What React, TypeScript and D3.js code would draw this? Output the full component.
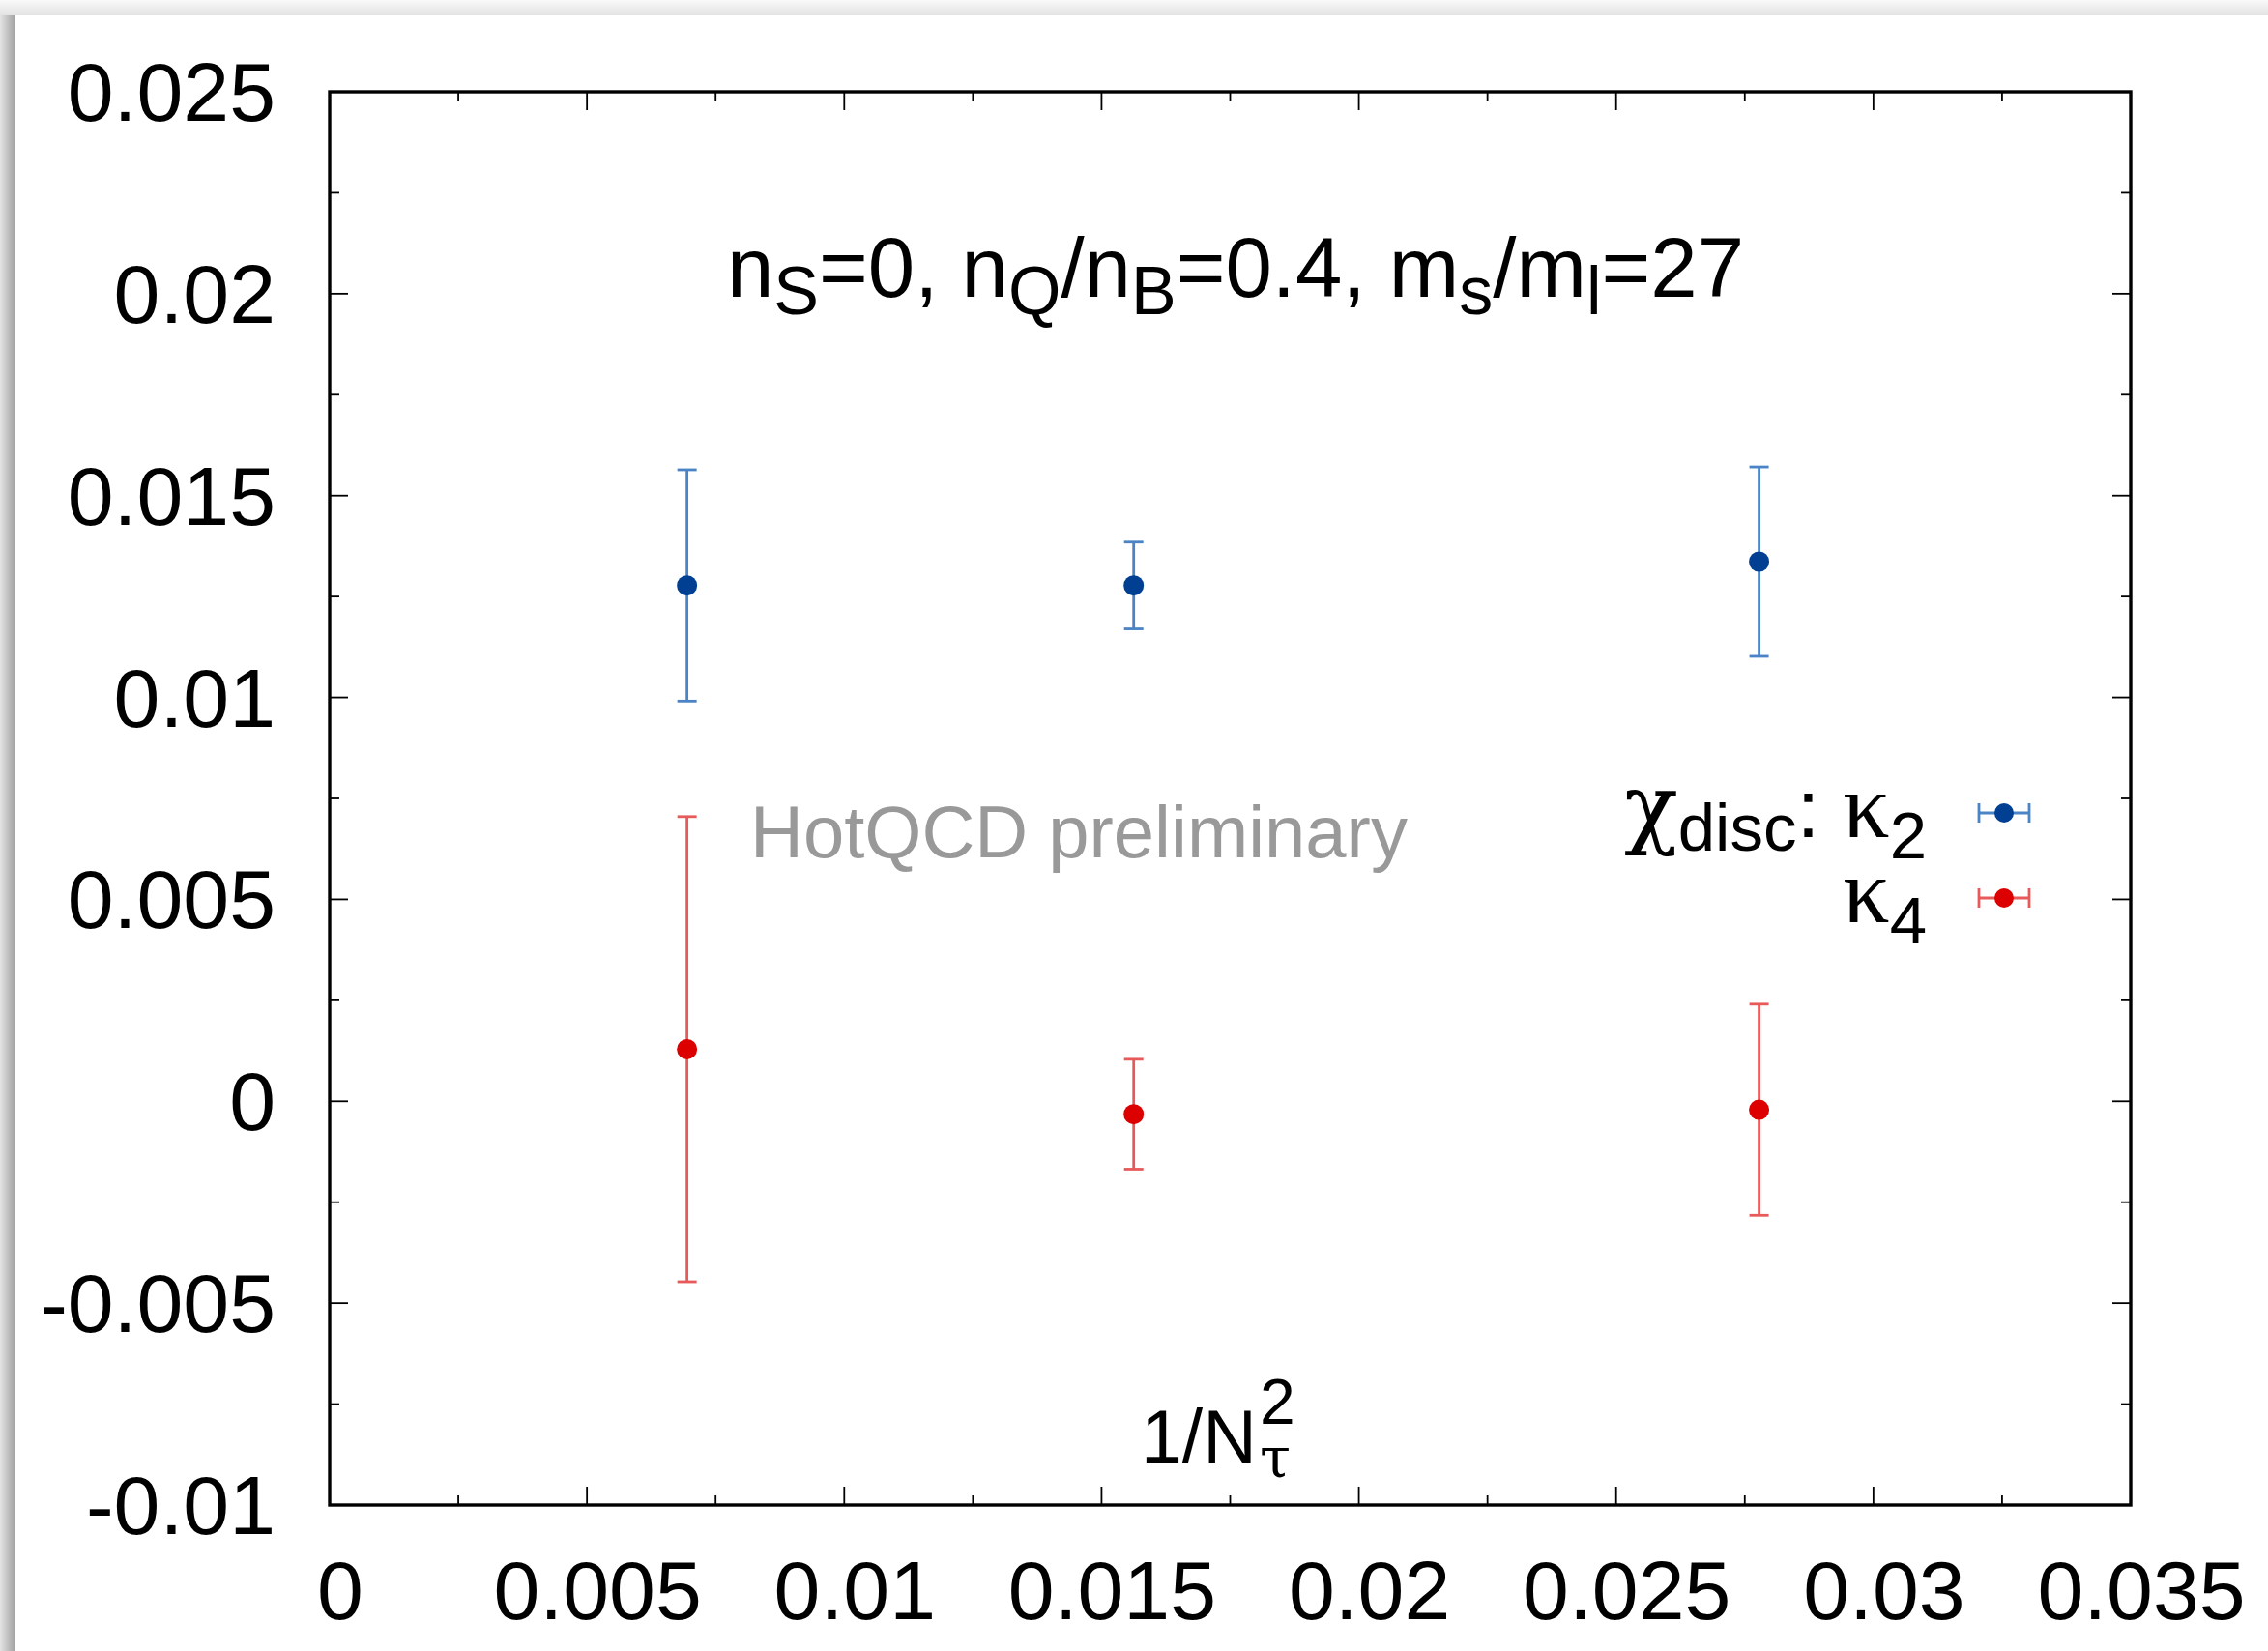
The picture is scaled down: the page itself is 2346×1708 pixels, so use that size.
import React from 'react';
import * as d3 from 'd3';

// ---- data ----
const xValues = [1 / 144, 1 / 64, 1 / 36];
const kappa2 = [0.012775, 0.012775, 0.013365];
const kappa2Err = [0.002865, 0.001075, 0.002345];
const kappa4 = [0.00129, -0.00032, -0.00021];
const kappa4Err = [0.00576, 0.00136, 0.002615];

const xTicks = [0, 0.005, 0.01, 0.015, 0.02, 0.025, 0.03, 0.035];
const xTickLabels = ['0', '0.005', '0.01', '0.015', '0.02', '0.025', '0.03', '0.035'];
const yTicks = [-0.01, -0.005, 0, 0.005, 0.01, 0.015, 0.02, 0.025];
const yTickLabels = ['-0.01', '-0.005', '0', '0.005', '0.01', '0.015', '0.02', '0.025'];
const xMinor = [0.0025, 0.0075, 0.0125, 0.0175, 0.0225, 0.0275, 0.0325];
const yMinor = [-0.0075, -0.0025, 0.0025, 0.0075, 0.0125, 0.0175, 0.0225];

const W = 2346;
const H = 1708;
const L = 341, R = 2204, T = 95, B = 1557;

const FONT = '"Liberation Sans", Arial, Helvetica, sans-serif';
const CHI = '"DejaVu Serif", "Liberation Serif", serif';
const KAPPA = '"Liberation Serif", "DejaVu Serif", serif';

const BLUE_PT = '#003f92';
const BLUE_BAR = '#4a84c6';
const RED_PT = '#dc0000';
const RED_BAR = '#e85a5a';

export default function App() {
  const x = d3.scaleLinear().domain([0, 0.035]).range([L, R]);
  const y = d3.scaleLinear().domain([-0.01, 0.025]).range([B, T]);

  const series = [
    { v: kappa2, e: kappa2Err, pt: BLUE_PT, bar: BLUE_BAR },
    { v: kappa4, e: kappa4Err, pt: RED_PT, bar: RED_BAR },
  ];

  const majorLen = 19;
  const minorLen = 10;

  return (
    <svg
      width={W}
      height={H}
      viewBox={`0 0 ${W} ${H}`}
      style={{ position: 'absolute', left: 0, top: 0, display: 'block', background: '#fff' }}
    >
      <defs>
        <linearGradient id="topShade" x1="0" y1="0" x2="0" y2="1">
          <stop offset="0" stopColor="#f9f9f9" />
          <stop offset="1" stopColor="#e2e2e2" />
        </linearGradient>
        <linearGradient id="leftShade" x1="0" y1="0" x2="1" y2="0">
          <stop offset="0" stopColor="#e4e4e4" />
          <stop offset="1" stopColor="#a4a4a4" />
        </linearGradient>
      </defs>
      <rect x={0} y={0} width={W} height={H} fill="#ffffff" />
      <rect x={0} y={0} width={W} height={16} fill="url(#topShade)" />
      <rect x={0} y={16} width={15} height={H - 16} fill="url(#leftShade)" />

      {/* ticks */}
      <g stroke="#000" strokeWidth={1.8}>
        {yTicks.map((t, i) => (
          <g key={'yt' + i}>
            <line x1={L} x2={L + majorLen} y1={y(t)} y2={y(t)} />
            <line x1={R} x2={R - majorLen} y1={y(t)} y2={y(t)} />
          </g>
        ))}
        {yMinor.map((t, i) => (
          <g key={'ym' + i}>
            <line x1={L} x2={L + minorLen} y1={y(t)} y2={y(t)} />
            <line x1={R} x2={R - minorLen} y1={y(t)} y2={y(t)} />
          </g>
        ))}
        {xTicks.map((t, i) => (
          <g key={'xt' + i}>
            <line x1={x(t)} x2={x(t)} y1={B} y2={B - majorLen} />
            <line x1={x(t)} x2={x(t)} y1={T} y2={T + majorLen} />
          </g>
        ))}
        {xMinor.map((t, i) => (
          <g key={'xm' + i}>
            <line x1={x(t)} x2={x(t)} y1={B} y2={B - minorLen} />
            <line x1={x(t)} x2={x(t)} y1={T} y2={T + minorLen} />
          </g>
        ))}
      </g>

      {/* frame */}
      <rect x={L} y={T} width={R - L} height={B - T} fill="none" stroke="#000" strokeWidth={3.4} />

      {/* tick labels */}
      <g fontFamily={FONT} fontSize={86} fill="#000">
        {yTicks.map((t, i) => (
          <text key={'yl' + i} x={285} y={y(t) + 30} textAnchor="end">
            {yTickLabels[i]}
          </text>
        ))}
        {xTicks.map((t, i) => (
          <text key={'xl' + i} x={x(t) + 11} y={1675} textAnchor="middle">
            {xTickLabels[i]}
          </text>
        ))}
      </g>

      {/* title */}
      <text x={1278} y={307} textAnchor="middle" fontFamily={FONT} fontSize={87} fill="#000">
        <tspan>n</tspan>
        <tspan fontSize={70} dy={18}>S</tspan>
        <tspan dy={-18}>=0, n</tspan>
        <tspan fontSize={70} dy={18}>Q</tspan>
        <tspan dy={-18}>/n</tspan>
        <tspan fontSize={70} dy={18}>B</tspan>
        <tspan dy={-18}>=0.4, m</tspan>
        <tspan fontSize={70} dy={18}>s</tspan>
        <tspan dy={-18}>/m</tspan>
        <tspan fontSize={70} dy={18}>l</tspan>
        <tspan dy={-18}>=27</tspan>
      </text>

      {/* watermark */}
      <text x={776} y={887} fontFamily={FONT} fontSize={76} fill="#999999">
        HotQCD preliminary
      </text>

      {/* x axis label inside the plot */}
      <text x={1180} y={1513} fontFamily={FONT} fontSize={77} fill="#000">1/N</text>
      <text x={1303} y={1528} fontFamily={CHI} fontSize={58} fill="#000">τ</text>
      <text x={1303} y={1473} fontFamily={FONT} fontSize={66} fill="#000">2</text>

      {/* data */}
      {series.map((s, si) => (
        <g key={'s' + si}>
          {xValues.map((xv, i) => {
            const cx = x(xv);
            const y0 = y(s.v[i] - s.e[i]);
            const y1 = y(s.v[i] + s.e[i]);
            return (
              <g key={i}>
                <g stroke={s.bar} strokeWidth={2.8}>
                  <line x1={cx} x2={cx} y1={y0} y2={y1} />
                  <line x1={cx - 10} x2={cx + 10} y1={y0} y2={y0} />
                  <line x1={cx - 10} x2={cx + 10} y1={y1} y2={y1} />
                </g>
                <circle cx={cx} cy={y(s.v[i])} r={10.5} fill={s.pt} />
              </g>
            );
          })}
        </g>
      ))}

      {/* legend */}
      <text x={1993} y={866} textAnchor="end" fontFamily={FONT} fontSize={86} fill="#000">
        <tspan fontFamily={CHI} fontSize={92}>χ</tspan>
        <tspan fontSize={69} dy={14}>disc</tspan>
        <tspan dy={-14}>: </tspan>
        <tspan fontFamily={KAPPA} fontSize={96}>κ</tspan>
        <tspan fontSize={69} dy={22}>2</tspan>
      </text>
      <text x={1993} y={954} textAnchor="end" fontFamily={FONT} fontSize={86} fill="#000">
        <tspan fontFamily={KAPPA} fontSize={96}>κ</tspan>
        <tspan fontSize={69} dy={22}>4</tspan>
      </text>
      {[
        { cy: 841, pt: BLUE_PT, bar: BLUE_BAR },
        { cy: 929, pt: RED_PT, bar: RED_BAR },
      ].map((lg, i) => (
        <g key={'lg' + i}>
          <g stroke={lg.bar} strokeWidth={2.8}>
            <line x1={2047} x2={2099} y1={lg.cy} y2={lg.cy} />
            <line x1={2047} x2={2047} y1={lg.cy - 10} y2={lg.cy + 10} />
            <line x1={2099} x2={2099} y1={lg.cy - 10} y2={lg.cy + 10} />
          </g>
          <circle cx={2073} cy={lg.cy} r={10} fill={lg.pt} />
        </g>
      ))}
    </svg>
  );
}
